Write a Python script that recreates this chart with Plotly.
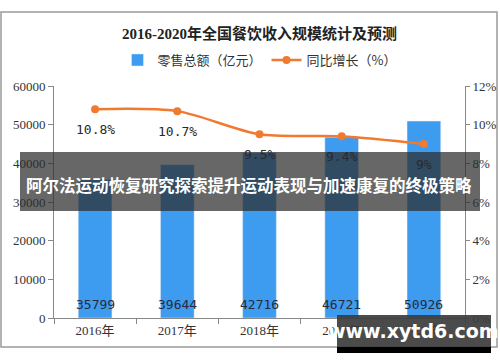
import plotly.graph_objects as go

years = ["2016年", "2017年", "2018年", "2019年", "2020年"]
sales = [35799, 39644, 42716, 46721, 50926]
growth = [10.8, 10.7, 9.5, 9.4, 9.0]
growth_labels = ["10.8%", "10.7%", "9.5%", "9.4%", "9%"]

title_text = "2016-2020年全国餐饮收入规模统计及预测"
banner_text = "阿尔法运动恢复研究探索提升运动表现与加速康复的终极策略"
mark_text = "www.xytd6.com"

BLUE = "#3d9bf0"
ORANGE = "#f07a30"
SERIF = "Liberation Serif, Noto Sans CJK SC"
CJK = "Noto Sans CJK SC"
MONO = "DejaVu Sans Mono, monospace"

L, R, T, B = 54, 35, 86, 44
W, H = 500, 362
pw, ph = W - L - R, H - T - B


def px(x):
    return (x - L) / pw


def py(y):
    return (H - B - y) / ph


fig = go.Figure()
fig.add_trace(go.Bar(
    x=years, y=sales, name="零售总额（亿元）", marker_color=BLUE, width=0.41,
))
fig.add_trace(go.Scatter(
    x=years, y=growth, name="同比增长（%）", yaxis="y2", mode="lines+markers",
    line=dict(color=ORANGE, width=2.5, shape="spline", smoothing=0.8),
    marker=dict(color=ORANGE, size=8),
))

annotations = []
for yr, v in zip(years, sales):
    annotations.append(dict(x=yr, y=0, xref="x", yref="y", text=str(v), showarrow=False,
                            yshift=14, font=dict(family=MONO, size=13, color="#2a2a3a")))
for yr, g, lab in zip(years, growth, growth_labels):
    annotations.append(dict(x=yr, y=g, xref="x", yref="y2", text=lab, showarrow=False,
                            yshift=-20, font=dict(family=MONO, size=13, color="#2a2a2a")))

annotations.append(dict(x=0.5, y=py(33), xref="paper", yref="paper", text="<b>" + title_text + "</b>",
                        xanchor="center", yanchor="middle",
                        showarrow=False, font=dict(family=SERIF, size=15, color="#222222")))
annotations.append(dict(x=px(249), y=py(185), xref="paper", yref="paper", text="<b>" + banner_text + "</b>",
                        xanchor="center", yanchor="middle",
                        showarrow=False, font=dict(family=CJK, size=16.5, color="white")))
annotations.append(dict(x=px(413), y=py(331), xref="paper", yref="paper", text="<b>" + mark_text + "</b>",
                        xanchor="center", yanchor="middle",
                        showarrow=False, font=dict(family="DejaVu Sans, sans-serif", size=19, color="white")))

shapes = [
    dict(type="rect", xref="paper", yref="paper", x0=px(1), x1=px(497), y0=py(12), y1=py(347),
         line=dict(color="#9a9a9a", width=1.5), fillcolor="rgba(0,0,0,0)", layer="below"),
    dict(type="rect", xref="paper", yref="paper", x0=px(20), x1=px(480), y0=py(152), y1=py(211),
         line=dict(width=0), fillcolor="rgba(45,45,45,0.72)", layer="above"),
    dict(type="rect", xref="paper", yref="paper", x0=px(337), x1=px(491), y0=py(315), y1=py(353),
         line=dict(width=0), fillcolor="rgba(60,60,60,0.92)", layer="above"),
    dict(type="rect", xref="paper", yref="paper", x0=px(337), x1=px(491), y0=py(347), y1=py(353),
         line=dict(width=0), fillcolor="black", layer="above"),
]

fig.update_layout(
    width=W, height=H, margin=dict(l=L, r=R, t=T, b=B, autoexpand=False),
    paper_bgcolor="white", plot_bgcolor="white",
    showlegend=True,
    legend=dict(orientation="h", x=0.5, xanchor="center", y=py(60), yanchor="middle",
                xref="paper", yref="paper", font=dict(family=CJK, size=13, color="#333333"),
                traceorder="normal"),
    xaxis=dict(type="category", tickson="boundaries", ticks="outside", ticklen=5, tickcolor="#888888",
               showline=True, linecolor="#888888", linewidth=1,
               tickfont=dict(family=SERIF, size=13, color="#333333"), showgrid=False),
    yaxis=dict(range=[0, 60000], dtick=10000, ticks="outside", ticklen=5, tickcolor="#888888",
               showline=True, linecolor="#888888", showgrid=False, zeroline=False,
               tickfont=dict(family=SERIF, size=13, color="#333333"), tickformat="d"),
    yaxis2=dict(range=[0, 12], dtick=2, overlaying="y", side="right", ticksuffix="%",
                ticks="outside", ticklen=4, tickcolor="#888888", showline=True, linecolor="#888888",
                showgrid=False, zeroline=False, tickfont=dict(family=SERIF, size=13, color="#333333")),
    annotations=annotations, shapes=shapes, bargap=0.59,
)

fig.write_html("out.html", config={"displayModeBar": False},
               post_script="document.body.style.margin='0';document.body.style.overflow='hidden';")
